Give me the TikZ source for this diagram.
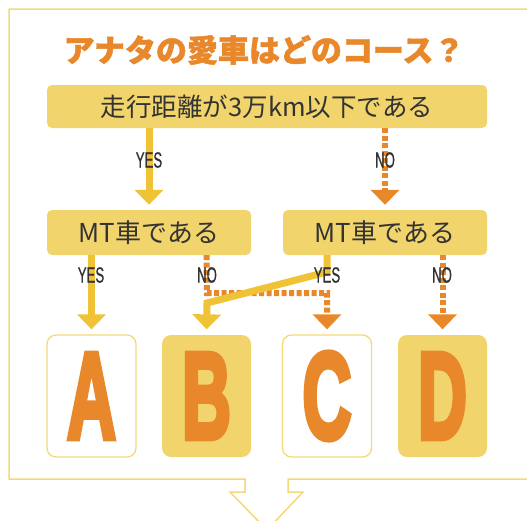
\documentclass[tikz,border=0pt]{standalone}
\usepackage{fontspec}
\usepackage{graphicx}
\setmainfont{Liberation Sans}
\newfontfamily\cjk{Noto Sans CJK JP}
\newfontfamily\titlefont{Noto Sans CJK JP}[BoldFeatures={FakeBold=1.5}]
\newfontfamily\heavy{Liberation Sans Bold}[FakeBold=5]
\newfontfamily\labfont{Liberation Sans}[FakeBold=1]
\usetikzlibrary{arrows.meta}
\definecolor{boxy}{HTML}{F2D46C}
\definecolor{linesy}{HTML}{F0C236}
\definecolor{ora}{HTML}{E8882B}
\definecolor{frame}{HTML}{F3D97A}
\definecolor{txt}{HTML}{333333}
\tikzset{
  qbox/.style={fill=boxy, rounded corners=5pt, minimum width=#1, text=txt, inner sep=0pt},
  abox/.style={draw=frame, line width=1.3pt, rounded corners=9pt, minimum width=89pt, minimum height=122pt, inner sep=0pt, text=ora, font=\heavy\fontsize{123}{123}\selectfont},
  fbox/.style={abox, fill=boxy, draw=none},
  yesline/.style={draw=linesy, line width=7pt, -{Triangle[width=28pt,length=15pt]}, shorten >=5pt},
  noline/.style={draw=ora, line width=6pt, dash pattern=on 5pt off 2.5pt, -{Triangle[width=28pt,length=15pt]}, shorten >=5pt},
  lab/.style={text=txt, font=\labfont\fontsize{22}{22}\selectfont, inner sep=0pt}
}
\newcommand{\narrowtxt}[1]{\scalebox{0.6}[1]{#1}}
\newcommand{\bigletter}[1]{\scalebox{0.55}[1]{#1}}
\begin{document}
\begin{tikzpicture}[x=1pt,y=-1pt]
\useasboundingbox (0,0) rectangle (527,520);
\clip (0,0) rectangle (527,520);
% frame with downward arrow
\draw[frame, line width=1.5pt, line join=miter]
  (540,479) -- (288,479) -- (288,492) -- (303,492) -- (267,530) -- (230,492) -- (245,492) -- (245,479) -- (9,479) -- (9,9) -- (540,9);
% title
\node[text=ora, font=\titlefont\bfseries\fontsize{31}{31}\selectfont] (title) at (264,50) {アナタの愛車はどのコース？};
% question boxes
\node[qbox=440pt, minimum height=43pt, font=\cjk\fontsize{25.5}{25.5}\selectfont] (q1) at (267,106.5) {走行距離が3万km以下である};
\node[qbox=204pt, minimum height=45pt, font=\cjk\fontsize{26}{26}\selectfont] (q2) at (149,232.5) {MT車である};
\node[qbox=204pt, minimum height=45pt, font=\cjk\fontsize{26}{26}\selectfont] (q3) at (385,232.5) {MT車である};
% answer boxes
\node[abox] (A) at (91.5,396) {\bigletter{A}};
\node[fbox] (B) at (206.5,396) {\bigletter{B}};
\node[abox] (C) at (327,396) {\bigletter{C}};
\node[fbox] (D) at (442.5,396) {\bigletter{D}};
% bend points
\coordinate (n1) at (207,293);
\coordinate (n2) at (327,293);
\coordinate (y1) at (327,272);
\coordinate (y2) at (207,303);
% connectors
\draw[yesline] (q1.south -| q2) -- (q2.north);
\draw[noline] (q1.south -| q3) -- (q3.north);
\draw[yesline] (q2.south -| A) -- (A.north);
\draw[noline] (q2.south -| B) -- (n1) -- (n2) -- (C.north);
\draw[noline] (q3.south -| D) -- (D.north);
\draw[yesline, line join=miter] (q3.south -| C) -- (y1) -- (y2) -- (B.north);
% labels
\node[lab] (l1) at (149,160) {\narrowtxt{YES}};
\node[lab] (l2) at (385,160) {\narrowtxt{NO}};
\node[lab] (l3) at (91,275) {\narrowtxt{YES}};
\node[lab] (l4) at (207,275) {\narrowtxt{NO}};
\node[lab] (l5) at (327,275) {\narrowtxt{YES}};
\node[lab] (l6) at (442,275) {\narrowtxt{NO}};
\end{tikzpicture}
\end{document}
